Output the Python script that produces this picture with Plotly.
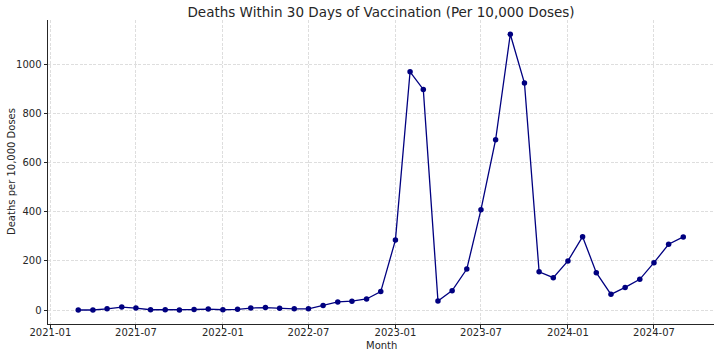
import plotly.graph_objects as go
import pandas as pd

months = pd.date_range("2021-03-01", "2024-09-01", freq="MS").strftime("%Y-%m-%d").tolist()
deaths = [0, 0, 5, 12, 8, 1, 1, 0, 2, 4,
          1, 3, 8, 10, 7, 5, 5, 18, 33, 36, 45, 75,
          285, 971, 899, 37, 79, 167, 409, 694, 1124, 925, 156, 132,
          200, 299, 152, 64, 92, 125, 193, 268, 298]

tick_vals = ["2021-01-01", "2021-07-01", "2022-01-01", "2022-07-01",
             "2023-01-01", "2023-07-01", "2024-01-01", "2024-07-01"]
tick_text = ["2021-01", "2021-07", "2022-01", "2022-07",
             "2023-01", "2023-07", "2024-01", "2024-07"]

fig = go.Figure()
fig.add_trace(go.Scatter(
    x=months, y=deaths, mode="lines+markers",
    line=dict(color="navy", width=1.3),
    marker=dict(color="navy", size=5.5),
))

font = "DejaVu Sans"
W, H = 720, 357
grid = dict(showgrid=True, gridcolor="#dedede", griddash="3px,1.5px", gridwidth=0.8)
fig.update_layout(
    width=W, height=H,
    margin=dict(l=48, r=6, t=20, b=33),
    paper_bgcolor="white", plot_bgcolor="white",
    showlegend=False,
    font=dict(family=font, size=10, color="#262626"),
    title=dict(text="Deaths Within 30 Days of Vaccination (Per 10,000 Doses)",
               x=381 / W, xanchor="center", y=1 - 12 / H, yanchor="middle",
               font=dict(family=font, size=13.5, color="#262626")),
    annotations=[
        dict(text="Month", xref="paper", yref="paper", x=0.5, y=0,
             xanchor="center", yanchor="middle", yshift=-21, showarrow=False,
             font=dict(size=10, color="#262626")),
        dict(text="Deaths per 10,000 Doses", xref="paper", yref="paper",
             x=0, y=0.5, xanchor="center", yanchor="middle", xshift=-37,
             textangle=-90, showarrow=False,
             font=dict(size=10, color="#262626")),
    ],
)
fig.update_xaxes(
    range=["2020-12-27", "2024-11-05"],
    tickmode="array", tickvals=tick_vals, ticktext=tick_text,
    showline=True, linecolor="#262626", linewidth=1,
    ticks="outside", ticklen=3.5, tickcolor="#262626",
    ticklabelstandoff=-5,
    zeroline=False, automargin=False, **grid,
)
fig.update_yaxes(
    range=[-57, 1182],
    tickvals=[0, 200, 400, 600, 800, 1000],
    showline=True, linecolor="#262626", linewidth=1,
    ticks="outside", ticklen=3.5, tickcolor="#262626",
    zeroline=False, automargin=False, **grid,
)
fig.write_html("out.html", config={"displayModeBar": False},
               post_script="document.body.style.margin='0px';")
